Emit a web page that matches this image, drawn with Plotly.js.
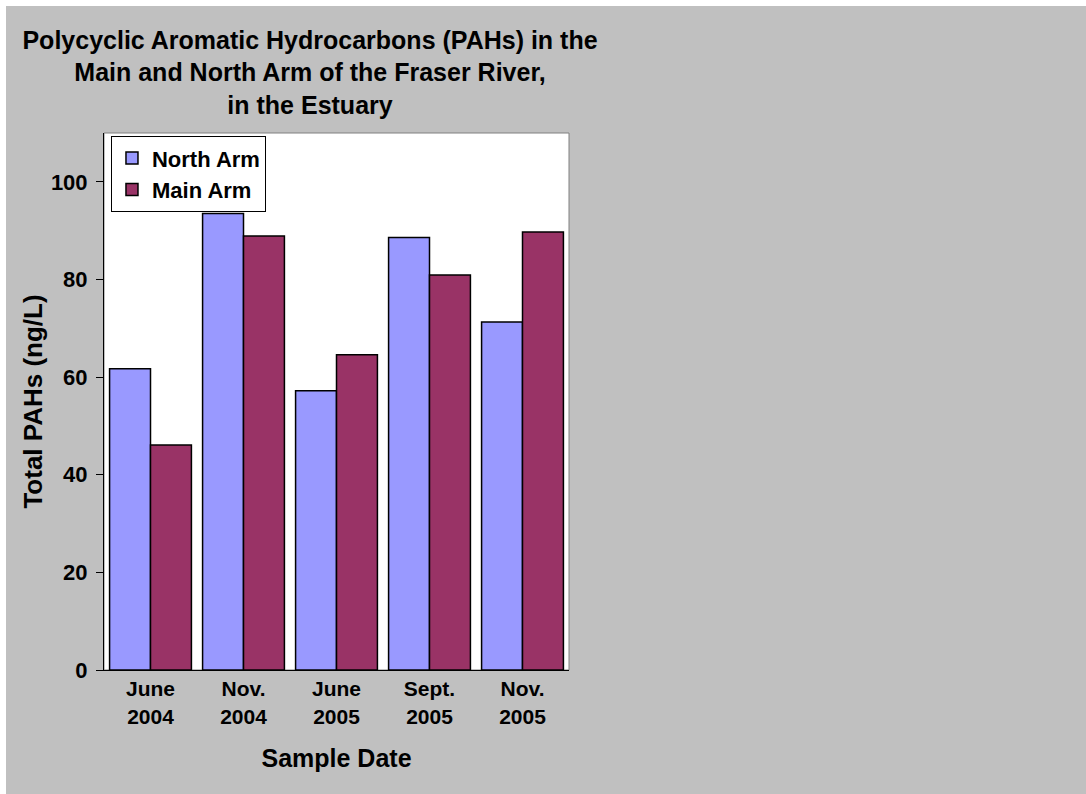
<!DOCTYPE html>
<html>
<head>
<meta charset="utf-8">
<script src="https://cdn.plot.ly/plotly-3.0.1.min.js"></script>
<style>
  html, body { margin: 0; padding: 0; background: #ffffff; }
  #chart { position: absolute; left: 6px; top: 6px; width: 1080px; height: 788px; }
</style>
</head>
<body>
<div id="chart"></div>
<script>
// Sampling dates (two-line category labels)
const sampleDates = ["June<br>2004", "Nov.<br>2004", "June<br>2005", "Sept.<br>2005", "Nov.<br>2005"];

// Total PAHs (ng/L) for each arm of the river
const northArm = [61.7, 93.5, 57.2, 88.6, 71.3];
const mainArm  = [46.1, 88.9, 64.6, 80.9, 89.7];

const FONT = "Liberation Sans, Arial, Helvetica, sans-serif";

const traces = [
  {
    type: "bar",
    name: "North Arm",
    x: sampleDates,
    y: northArm,
    marker: { color: "#9999FF", line: { color: "#000000", width: 1.5 } },
    hoverinfo: "y+name"
  },
  {
    type: "bar",
    name: "Main Arm",
    x: sampleDates,
    y: mainArm,
    marker: { color: "#993366", line: { color: "#000000", width: 1.5 } },
    hoverinfo: "y+name"
  }
];

const layout = {
  width: 1080,
  height: 788,
  paper_bgcolor: "#C0C0C0",
  plot_bgcolor: "#FFFFFF",
  font: { family: FONT, size: 21, color: "#000000", weight: "bold" },
  margin: { l: 98, r: 517, t: 127, b: 124, pad: 0 },
  barmode: "group",
  bargap: 0.12,
  bargroupgap: 0,
  title: {
    text: "Polycyclic Aromatic Hydrocarbons (PAHs) in the<br>Main and North Arm of the Fraser River,<br>in the Estuary",
    font: { family: FONT, size: 25, color: "#000000", weight: "bold" },
    xref: "container",
    yref: "container",
    x: 0.2815,
    xanchor: "center",
    y: 0.946,
    yanchor: "middle"
  },
  xaxis: {
    type: "category",
    showline: true,
    linecolor: "#000000",
    linewidth: 1,
    ticks: "",
    showgrid: false,
    zeroline: false,
    tickfont: { family: FONT, size: 21, color: "#000000", weight: "bold" },
    title: {
      text: "Sample Date",
      font: { family: FONT, size: 25, color: "#000000", weight: "bold" },
      standoff: 22
    }
  },
  yaxis: {
    range: [0, 110],
    tickvals: [0, 20, 40, 60, 80, 100],
    showline: true,
    linecolor: "#000000",
    linewidth: 1,
    ticks: "outside",
    ticklen: 7,
    tickwidth: 1,
    tickcolor: "#000000",
    ticklabelstandoff: 4,
    showgrid: false,
    zeroline: false,
    tickfont: { family: FONT, size: 22, color: "#000000", weight: "bold" },
    title: {
      text: "Total PAHs (ng/L)",
      font: { family: FONT, size: 26, color: "#000000", weight: "bold" },
      standoff: 0
    }
  },
  legend: {
    x: 0.015,
    y: 0.994,
    xanchor: "left",
    yanchor: "top",
    bgcolor: "#FFFFFF",
    bordercolor: "#000000",
    borderwidth: 1,
    font: { family: FONT, size: 22, color: "#000000", weight: "bold" }
  },
  shapes: [
    {
      type: "rect",
      xref: "paper",
      yref: "paper",
      x0: 0, x1: 1, y0: 0, y1: 1,
      line: { color: "#808080", width: 1 },
      layer: "below"
    }
  ]
};

Plotly.newPlot("chart", traces, layout, { displayModeBar: false, responsive: false });
</script>
</body>
</html>
